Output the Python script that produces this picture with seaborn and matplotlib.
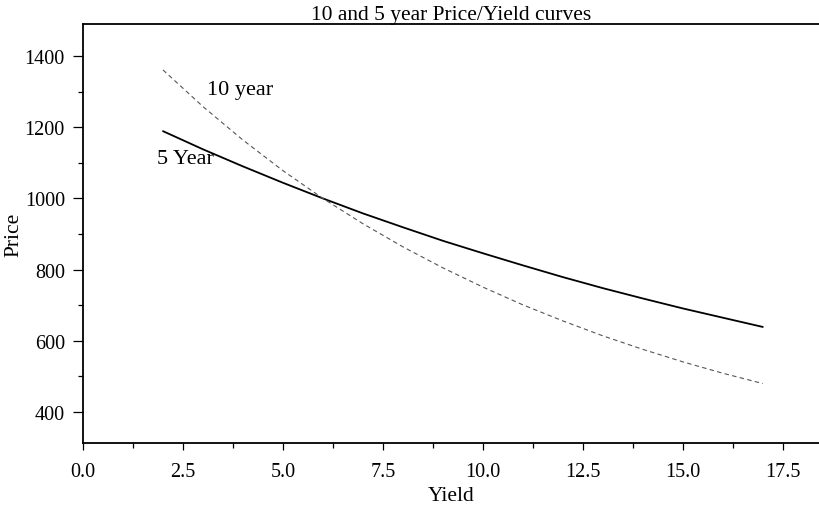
import pandas as pd
import seaborn as sns
import matplotlib.pyplot as plt
from matplotlib.ticker import MultipleLocator

# -------------------------------
# Data
# -------------------------------
yields = [2, 3, 4, 5, 6, 7, 8, 9, 10, 11, 12, 13, 14, 15, 16, 17]
price_5yr = [1189, 1138, 1090, 1044, 1000, 958, 919, 881, 846, 812,
             779, 748, 719, 691, 665, 639]
price_10yr = [1361, 1258, 1164, 1078, 1000, 929, 864, 805, 751, 701,
              656, 614, 576, 541, 509, 480]

df = pd.DataFrame({
    "Yield": yields * 2,
    "Price": price_5yr + price_10yr,
    "Bond": ["5 Year"] * len(yields) + ["10 year"] * len(yields),
})

# -------------------------------
# Style
# -------------------------------
sns.set_style("ticks")
plt.rcParams["font.family"] = ["Liberation Serif", "DejaVu Serif"]
plt.rcParams["text.color"] = "black"
plt.rcParams["axes.labelcolor"] = "black"
plt.rcParams["xtick.color"] = "black"
plt.rcParams["ytick.color"] = "black"

fig = plt.figure(figsize=(8.2, 5.06), dpi=100)
ax = fig.add_axes([83 / 820, 62 / 506, 737 / 820, 419 / 506])

sns.lineplot(data=df[df.Bond == "5 Year"], x="Yield", y="Price", ax=ax,
             color="black", linewidth=1.3)
sns.lineplot(data=df[df.Bond == "10 year"], x="Yield", y="Price", ax=ax,
             color="#555555", linewidth=0.8)
ax.lines[-1].set_dashes([4, 3])

ax.text(3.1, 1307, "10 year", fontsize=16, va="center")
ax.text(1.85, 1113, "5 Year", fontsize=16, va="center")

ax.set_xlim(0, 18.43)
ax.set_ylim(313, 1490)
ax.xaxis.set_major_locator(MultipleLocator(2.5))
ax.xaxis.set_minor_locator(MultipleLocator(1.25))
ax.yaxis.set_major_locator(MultipleLocator(200))
ax.yaxis.set_minor_locator(MultipleLocator(100))
ax.xaxis.set_major_formatter(lambda v, p: f"{v:.1f}")

ax.tick_params(axis="both", which="major", labelsize=14.5, width=0.9)
ax.tick_params(axis="y", which="major", length=7, pad=6)
ax.tick_params(axis="x", which="major", length=5, pad=9)
ax.tick_params(axis="both", which="minor", length=3.5, width=0.9)

for side in ["left", "bottom", "top"]:
    ax.spines[side].set_linewidth(1.3)
    ax.spines[side].set_color("black")
ax.spines["right"].set_visible(False)

ax.set_xlabel("Yield", fontsize=15.5, labelpad=3)
ax.set_ylabel("Price", fontsize=15.5, labelpad=1)
ax.set_title("10 and 5 year Price/Yield curves", fontsize=15.5, pad=2)

fig.savefig("out.png", dpi=100)
plt.close()
